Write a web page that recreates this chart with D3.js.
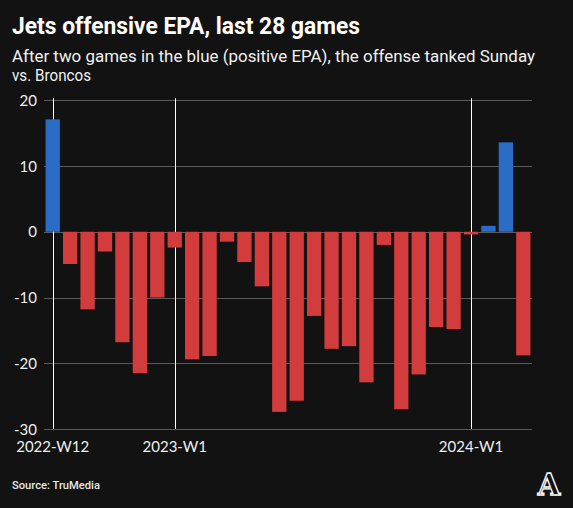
<!DOCTYPE html>
<html><head><meta charset="utf-8">
<script src="https://cdn.jsdelivr.net/npm/d3@7"></script>
<style>
html,body{margin:0;padding:0;background:#121212;}
svg{display:block;}
</style></head>
<body>
<svg id="chart" width="573" height="508"></svg>
<script>
const games = [
  "2022-W12","2022-W13","2022-W14","2022-W15","2022-W16","2022-W17","2022-W18",
  "2023-W1","2023-W2","2023-W3","2023-W4","2023-W5","2023-W6","2023-W8","2023-W9",
  "2023-W10","2023-W11","2023-W12","2023-W13","2023-W14","2023-W15","2023-W16",
  "2023-W17","2023-W18","2024-W1","2024-W2","2024-W3","2024-W4"
];
const epa = [
  17.1, -4.9, -11.8, -3.0, -16.8, -21.5, -10.0,
  -2.4, -19.4, -18.9, -1.5, -4.6, -8.3, -27.4, -25.7,
  -12.8, -17.8, -17.4, -22.9, -2.0, -27.0, -21.7,
  -14.5, -14.8, -0.4, 0.9, 13.6, -18.8
];
const xTickLabels = ["2022-W12","2023-W1","2024-W1"];
const yTicks = [20, 10, 0, -10, -20, -30];
const title = "Jets offensive EPA, last 28 games";
const subtitle = ["After two games in the blue (positive EPA), the offense tanked Sunday", "vs. Broncos"];
const source = "Source: TruMedia";

const svg = d3.select("#chart");
const W = 573, H = 508;
svg.append("rect").attr("width", W).attr("height", H).attr("fill", "#121212");

const x = d3.scaleBand().domain(games).range([44, 532]).paddingInner(0.18).paddingOuter(0.09);
const y = d3.scaleLinear().domain([-30, 20]).range([429, 100.3]);

// Title
svg.append("text").attr("x", 12).attr("y", 34)
  .attr("font-family", "Roboto, sans-serif").attr("font-weight", 700)
  .attr("font-size", 23.5).attr("fill", "#ffffff")
  .attr("textLength", 348).attr("lengthAdjust", "spacingAndGlyphs")
  .text(title);
svg.append("text").attr("x", 12).attr("y", 62)
  .attr("font-family", "Roboto, sans-serif").attr("font-weight", 400)
  .attr("font-size", 16.5).attr("fill", "#f0f0f0")
  .attr("textLength", 523).attr("lengthAdjust", "spacingAndGlyphs")
  .text(subtitle[0]);
svg.append("text").attr("x", 12).attr("y", 81)
  .attr("font-family", "Roboto, sans-serif").attr("font-weight", 400)
  .attr("font-size", 16.5).attr("fill", "#f0f0f0")
  .attr("textLength", 79).attr("lengthAdjust", "spacingAndGlyphs")
  .text(subtitle[1]);

// Gridlines
const g = svg.append("g");
g.selectAll("line.grid").data(yTicks).join("line")
  .attr("class", "grid")
  .attr("x1", 44).attr("x2", 532)
  .attr("y1", d => Math.round(y(d)) + 0.5).attr("y2", d => Math.round(y(d)) + 0.5)
  .attr("stroke", "#5a5a5a").attr("stroke-width", 1);

// Y axis labels
const yAxis = d3.axisLeft(y).tickValues(yTicks).tickSize(0).tickPadding(0).tickFormat(d => String(d));
const ya = svg.append("g").attr("transform", "translate(37,0)").call(yAxis);
ya.select(".domain").remove();
ya.selectAll("text").attr("font-family", "Lato, sans-serif").attr("font-size", 15)
  .attr("fill", "#eeeeee").attr("dy", "0.34em");

// Vertical reference lines
g.selectAll("line.vref").data(xTickLabels).join("line")
  .attr("class", "vref")
  .attr("x1", d => Math.round(x(d) + x.bandwidth() / 2) + 0.5)
  .attr("x2", d => Math.round(x(d) + x.bandwidth() / 2) + 0.5)
  .attr("y1", y(20) - 2).attr("y2", y(-30))
  .attr("stroke", "#ffffff").attr("stroke-width", 1);

// Bars
svg.append("g").selectAll("rect").data(epa).join("rect")
  .attr("x", (d, i) => x(games[i]))
  .attr("width", x.bandwidth())
  .attr("y", d => y(Math.max(0, d)))
  .attr("height", d => Math.abs(y(d) - y(0)))
  .attr("fill", d => d >= 0 ? "#2b6cc6" : "#d33c3c");

// X axis labels
const xAxis = d3.axisBottom(x).tickValues(xTickLabels).tickSize(0).tickPadding(0);
const xa = svg.append("g").attr("transform", "translate(0,441)").call(xAxis);
xa.select(".domain").remove();
xa.selectAll("text").attr("font-family", "Lato, sans-serif").attr("font-size", 15)
  .attr("fill", "#eeeeee").attr("dy", "0.75em");

// Source
svg.append("text").attr("x", 12).attr("y", 489)
  .attr("font-family", "Roboto, sans-serif").attr("font-weight", 500)
  .attr("font-size", 11.5).attr("fill", "#e6e6e6")
  .attr("textLength", 88).attr("lengthAdjust", "spacingAndGlyphs")
  .text(source);

// Logo
svg.append("text").attr("x", 549).attr("y", 495).attr("text-anchor", "middle")
  .attr("font-family", "DejaVu Serif, serif").attr("font-weight", 700)
  .attr("font-size", 29).attr("fill", "#121212").attr("stroke", "#ffffff").attr("stroke-width", 1.3)
  .text("A");
</script>
</body></html>
